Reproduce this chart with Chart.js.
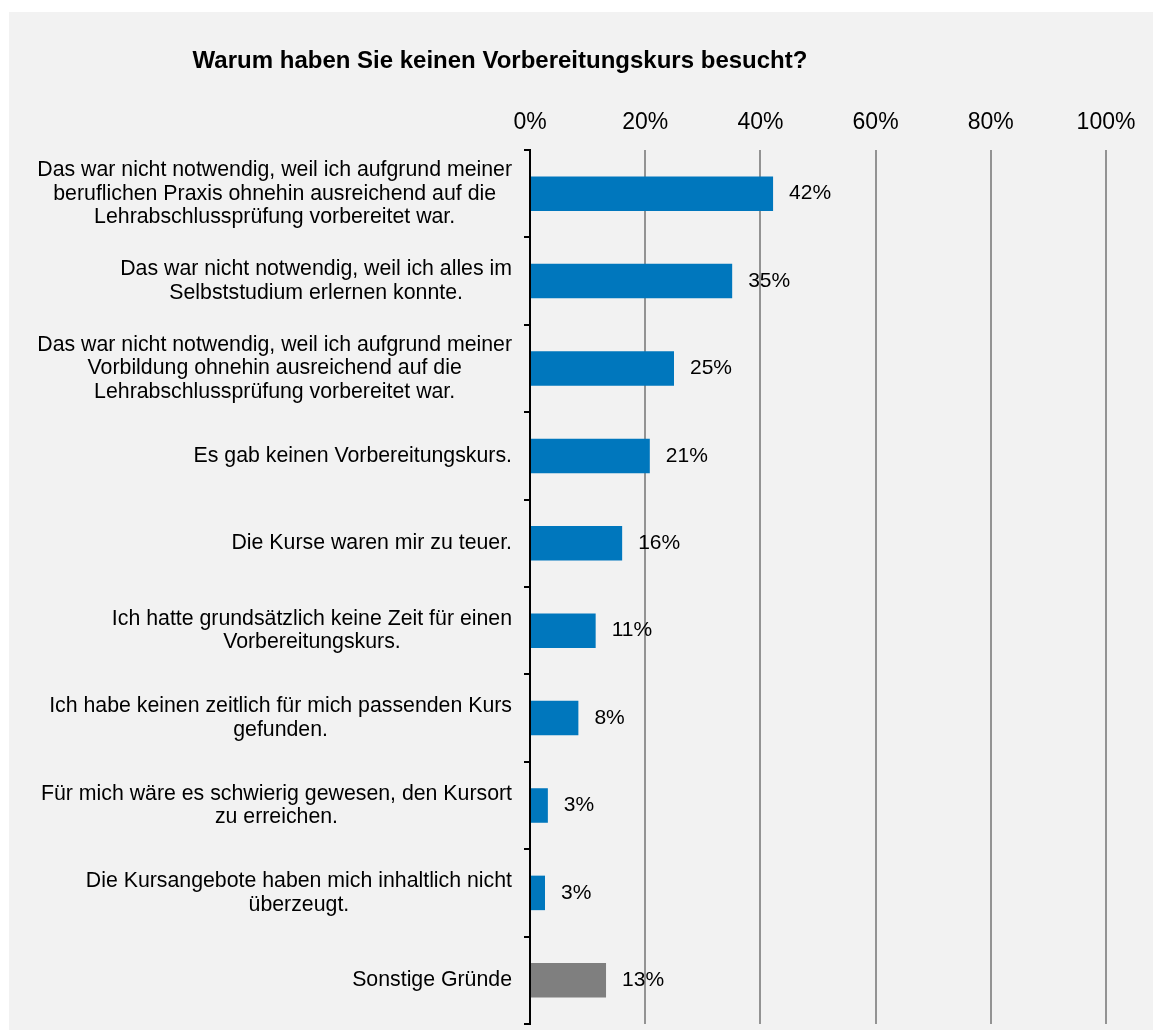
<!DOCTYPE html>
<html>
<head>
<meta charset="utf-8">
<script src="https://cdn.jsdelivr.net/npm/chart.js@4/dist/chart.umd.min.js"></script>
<style>
    html, body { margin: 0; padding: 0; background: #ffffff; }
    #wrap {
        position: absolute;
        left: 9px;
        top: 12px;
        width: 1144px;
        height: 1018px;
        background: #f2f2f2;
    }
</style>
</head>
<body>
<div id="wrap"><canvas id="reasonChart" width="1144" height="1018"></canvas></div>
<script>
// Chart data
const chartTitle = 'Warum haben Sie keinen Vorbereitungskurs besucht?';

const categories = [
    ['Das war nicht notwendig, weil ich aufgrund meiner', 'beruflichen Praxis ohnehin ausreichend auf die', 'Lehrabschlussprüfung vorbereitet war.'],
    ['Das war nicht notwendig, weil ich alles im', 'Selbststudium erlernen konnte.'],
    ['Das war nicht notwendig, weil ich aufgrund meiner', 'Vorbildung ohnehin ausreichend auf die', 'Lehrabschlussprüfung vorbereitet war.'],
    ['Es gab keinen Vorbereitungskurs.'],
    ['Die Kurse waren mir zu teuer.'],
    ['Ich hatte grundsätzlich keine Zeit für einen', 'Vorbereitungskurs.'],
    ['Ich habe keinen zeitlich für mich passenden Kurs', 'gefunden.'],
    ['Für mich wäre es schwierig gewesen, den Kursort', 'zu erreichen.'],
    ['Die Kursangebote haben mich inhaltlich nicht', 'überzeugt.'],
    ['Sonstige Gründe']
];

const shares = [42.2, 35.1, 25.0, 20.8, 16.0, 11.4, 8.4, 3.1, 2.6, 13.2];

const axisTicks = [0, 20, 40, 60, 80, 100];

const FONT = '"Liberation Sans", Arial, sans-serif';
const BLUE = '#0077bd';
const GREY = '#7f7f7f';

// draws title, category labels (lines centred in each block) and value labels
const textPlugin = {
    id: 'textPlugin',
    afterDraw(chart) {
        const ctx = chart.ctx;
        const area = chart.chartArea;
        const yScale = chart.scales.y;
        const meta = chart.getDatasetMeta(0);

        ctx.save();
        ctx.fillStyle = '#000000';

        // title
        ctx.font = 'bold 24px ' + FONT;
        ctx.textAlign = 'center';
        ctx.textBaseline = 'alphabetic';
        ctx.fillText(chartTitle, 491, 56);

        // category labels
        ctx.font = '21.3px ' + FONT;
        ctx.textBaseline = 'middle';
        const lineH = 23.5;
        categories.forEach((lines, i) => {
            const y = yScale.getPixelForValue(i);
            const maxW = Math.max(...lines.map(l => ctx.measureText(l).width));
            const cx = area.left - 18 - maxW / 2;
            const y0 = y - (lines.length - 1) * lineH / 2;
            lines.forEach((l, j) => {
                ctx.fillText(l, cx, y0 + j * lineH);
            });
        });

        // value labels
        ctx.font = '21px ' + FONT;
        ctx.textAlign = 'left';
        meta.data.forEach((bar, i) => {
            ctx.fillText(Math.round(shares[i]) + '%', bar.x + 16, bar.y);
        });
        ctx.restore();
    }
};

function initChart() {
    const ctx = document.getElementById('reasonChart').getContext('2d');

    new Chart(ctx, {
        type: 'bar',
        data: {
            labels: categories.map(c => c.join(' ')),
            datasets: [{
                data: shares,
                backgroundColor: shares.map((_, i) => i === shares.length - 1 ? GREY : BLUE),
                borderWidth: 0,
                barPercentage: 0.395,
                categoryPercentage: 1.0
            }]
        },
        options: {
            indexAxis: 'y',
            responsive: false,
            animation: false,
            layout: {
                padding: { left: 0, right: 47, top: 0, bottom: 6 }
            },
            plugins: {
                legend: { display: false },
                title: { display: false },
                tooltip: { enabled: false }
            },
            scales: {
                x: {
                    position: 'top',
                    min: 0,
                    max: 100,
                    afterBuildTicks(scale) {
                        scale.ticks = axisTicks.map(v => ({ value: v }));
                    },
                    afterFit(scale) {
                        scale.height = 138;
                    },
                    border: { display: false },
                    grid: {
                        drawTicks: false,
                        lineWidth: 2,
                        color: c => c.tick && c.tick.value === 0 ? 'rgba(0,0,0,0)' : '#939393'
                    },
                    ticks: {
                        padding: 14,
                        color: '#000000',
                        font: { family: FONT, size: 23 },
                        callback: v => v + '%'
                    }
                },
                y: {
                    afterFit(scale) {
                        scale.width = 521;
                    },
                    border: { display: true, color: '#000000', width: 2 },
                    grid: {
                        offset: true,
                        drawOnChartArea: false,
                        drawTicks: true,
                        tickLength: 6,
                        lineWidth: 2,
                        color: '#000000'
                    },
                    ticks: { display: false }
                }
            }
        },
        plugins: [textPlugin]
    });
}

document.addEventListener('DOMContentLoaded', initChart);
</script>
</body>
</html>
